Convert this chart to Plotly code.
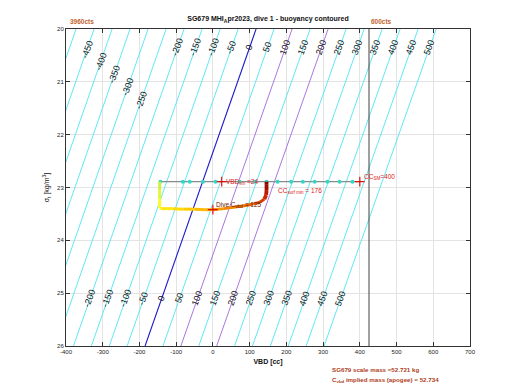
import numpy as np
import plotly.graph_objects as go
from plotly.colors import sample_colorscale

# ---------------- data ----------------
scale_mass_g = 52721.0          # SG679 scale mass (g)
hull_volume_cc = 51569.7        # volume at VBD = 0 (cc)
contour_levels = list(range(-500, 501, 50))   # buoyancy (g)
sigma_grid = [20.0, 21.0, 22.0, 23.0, 24.0, 25.0, 26.0]

top_label_levels = [-200, -150, -100, -50, 0, 50, 100, 150, 200, 250, 300, 350, 400, 450, 500]
top_label_sigma = 20.35
stagger_label_levels = [-450, -400, -350, -300, -250]
stagger_label_sigma = [20.39, 20.62, 20.85, 21.10, 21.34]
bottom_label_levels = [-200, -150, -100, -50, 0, 50, 100, 150, 200, 250, 300, 350, 400, 450, 500]
bottom_label_sigma = 25.10

# dive trace (VBD cc, sigma_t)
path_vbd = [-145, -145, -145, -145, -140, -110, -80, -50, -20, 0, 30, 60, 90, 110, 128, 140, 145, 146, 146, 146]
path_sigma = [22.89, 23.05, 23.22, 23.39, 23.40, 23.40, 23.41, 23.41, 23.42, 23.42, 23.40, 23.37, 23.34,
              23.31, 23.28, 23.22, 23.14, 23.05, 22.95, 22.89]

surface_sigma = 22.89
surface_line_vbd = [-145, 400]
surface_marker_vbd = [-143, -82, -63, -27, 7, 73, 114, 146, 176, 213, 245, 277, 312, 345, 380]

vbd_lim = 24
cc_sm = 400
cc_surf_min = 176
dive_c_vbd = 125
apogee_vbd, apogee_sigma = 0, 23.42
vbd_max_line = 425

x_ticks = list(range(-400, 701, 100))
y_ticks = [20, 21, 22, 23, 24, 25, 26]

# ---------------- helpers ----------------
def vbd_for(level, sigma):
    sigma = np.asarray(sigma, dtype=float)
    return (scale_mass_g + level) / (1.0 + sigma / 1000.0) - hull_volume_cc

FONT = "Liberation Sans"
fig = go.Figure()

# contour lines
for lv in contour_levels:
    if lv == 0:
        col, w = "#1a1acc", 1.1
    elif lv in (100, 200):
        col, w = "#a066dd", 0.9
    else:
        col, w = "#4fe4f2", 0.9
    fig.add_trace(go.Scatter(x=vbd_for(lv, sigma_grid), y=sigma_grid, mode="lines",
                             line=dict(color=col, width=w), hoverinfo="skip", showlegend=False))

# vertical limit line
fig.add_trace(go.Scatter(x=[vbd_max_line, vbd_max_line], y=[20, 26], mode="lines",
                         line=dict(color="#404040", width=1), showlegend=False))

# surface line + markers
fig.add_trace(go.Scatter(x=surface_line_vbd, y=[surface_sigma] * 2, mode="lines",
                         line=dict(color="#8a8a8a", width=1.3), showlegend=False))
fig.add_trace(go.Scatter(x=surface_marker_vbd, y=[surface_sigma] * len(surface_marker_vbd), mode="markers",
                         marker=dict(color="#30d8c8", size=4), showlegend=False))

# dive trace colored by time
cscale = [[0, "#d0f040"], [0.12, "#ffff20"], [0.3, "#ffd000"], [0.5, "#f59000"],
          [0.7, "#e04800"], [0.85, "#c01000"], [1.0, "#6a0000"]]
n = len(path_vbd)
cols = sample_colorscale(cscale, [i / (n - 1) for i in range(n)])
for i in range(n - 1):
    w = 3.0 if i < n - 5 else 3.8
    fig.add_trace(go.Scatter(x=path_vbd[i:i + 2], y=path_sigma[i:i + 2], mode="lines",
                             line=dict(color=cols[i], width=w), showlegend=False))

# red crosses
fig.add_trace(go.Scatter(x=[vbd_lim, cc_sm, apogee_vbd], y=[surface_sigma, surface_sigma, apogee_sigma],
                         mode="markers", marker=dict(symbol="cross-thin", size=7,
                                                     line=dict(color="#e01010", width=1.2)),
                         showlegend=False))

ann = []
# contour labels
for lv in top_label_levels:
    ann.append(dict(x=float(vbd_for(lv, top_label_sigma)), y=top_label_sigma, text=str(lv)))
for lv, s in zip(stagger_label_levels, stagger_label_sigma):
    ann.append(dict(x=float(vbd_for(lv, s)), y=s, text=str(lv)))
for lv in bottom_label_levels:
    ann.append(dict(x=float(vbd_for(lv, bottom_label_sigma)), y=bottom_label_sigma, text=str(lv)))
for a in ann:
    a.update(xref="x", yref="y", showarrow=False, textangle=-70,
             font=dict(family=FONT, size=9, color="#111"))

red = "#e01818"
ann += [
    dict(x=vbd_lim + 6, y=surface_sigma, xref="x", yref="y", xanchor="left", showarrow=False,
         text="VBD<sub>lim</sub> =%d" % vbd_lim, font=dict(family=FONT, size=6.5, color=red)),
    dict(x=cc_sm + 5, y=surface_sigma - 0.09, xref="x", yref="y", xanchor="left", showarrow=False,
         text="CC<sub>SM</sub>=%d" % cc_sm, font=dict(family=FONT, size=6.5, color=red)),
    dict(x=cc_surf_min - 5, y=surface_sigma + 0.18, xref="x", yref="y", xanchor="left", showarrow=False,
         text="CC<sub>surf min</sub> = %d" % cc_surf_min, font=dict(family=FONT, size=6.5, color=red)),
    dict(x=apogee_vbd + 2, y=apogee_sigma - 0.09, xref="x", yref="y", xanchor="left", showarrow=False,
         text="Dive C<sub>vbd</sub> = %d" % dive_c_vbd, font=dict(family=FONT, size=6.5, color="#6a2000")),
    dict(x=0.005, y=1.005, xref="paper", yref="paper", xanchor="left", yanchor="bottom", showarrow=False,
         text="<b>3960cts</b>", font=dict(family=FONT, size=6.5, color="#c0622e")),
    dict(x=vbd_max_line, y=1.005, xref="x", yref="paper", xanchor="left", yanchor="bottom", showarrow=False,
         text="<b>600cts</b>", font=dict(family=FONT, size=6.5, color="#c0622e")),
    dict(x=(330 - 66) / 404, y=-(369 - 346) / 317, xref="paper", yref="paper", xanchor="left",
         yanchor="middle", showarrow=False, text="<b>SG679 scale mass =52.721 kg</b>",
         font=dict(family=FONT, size=6.2, color="#b0401c")),
    dict(x=(330 - 66) / 404, y=-(380 - 346) / 317, xref="paper", yref="paper", xanchor="left",
         yanchor="middle", showarrow=False, text="<b>C<sub>vbd</sub> implied mass (apogee) = 52.734</b>",
         font=dict(family=FONT, size=6.2, color="#b0401c")),
]

fig.update_layout(
    width=520, height=390,
    margin=dict(l=66, r=50, t=29, b=44),
    paper_bgcolor="white", plot_bgcolor="white",
    showlegend=False,
    title=dict(text="<b>SG679 MHI<sub>A</sub>pr2023, dive 1 - buoyancy contoured</b>",
               x=(268) / 520, xanchor="center", y=1 - 19 / 390, yanchor="middle",
               font=dict(family=FONT, size=7, color="#111")),
    annotations=ann,
    xaxis=dict(range=[-400, 700], tickvals=x_ticks, ticktext=[str(v) for v in x_ticks],
               showgrid=True, gridcolor="#e4e4e4", gridwidth=1, zeroline=False,
               showline=True, linecolor="#333", linewidth=1, mirror="ticks",
               ticks="inside", ticklen=4, tickcolor="#333",
               tickfont=dict(family=FONT, size=6, color="#222"),
               title=dict(text="<b>VBD [cc]</b>", font=dict(family=FONT, size=7, color="#111"), standoff=4)),
    yaxis=dict(range=[26, 20], tickvals=y_ticks, ticktext=[str(v) for v in y_ticks],
               showgrid=True, gridcolor="#e4e4e4", gridwidth=1, zeroline=False,
               showline=True, linecolor="#333", linewidth=1, mirror="ticks",
               ticks="inside", ticklen=4, tickcolor="#333",
               tickfont=dict(family=FONT, size=6, color="#222"),
               title=dict(text="σ<sub>t</sub> [kg/m<sup>3</sup>]", font=dict(family=FONT, size=7, color="#111"),
                          standoff=6)),
)

fig.write_html("out.html", config={"displayModeBar": False},
               post_script="document.body.style.margin='0px';")
